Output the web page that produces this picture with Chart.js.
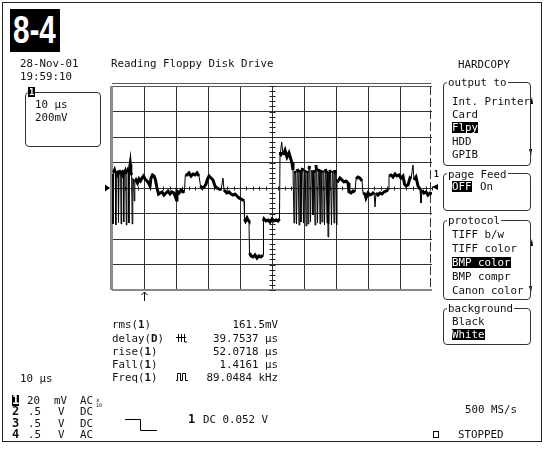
<!DOCTYPE html>
<html><head><meta charset="utf-8">
<script src="https://cdn.jsdelivr.net/npm/chart.js@4/dist/chart.umd.min.js"></script>
<style>
html,body{margin:0;padding:0;background:#fff;}
#wrap{position:relative;width:545px;height:452px;overflow:hidden;}
canvas{position:absolute;left:0;top:0;}
.t{position:absolute;font-family:'DejaVu Sans Mono',monospace;font-size:10.8px;line-height:11px;color:#111;white-space:pre;}
.inv{background:#000;color:#fff;}
.b{font-weight:bold;}
.box{position:absolute;border:1px solid #333;border-radius:4px;}
.ttl{background:#fff;padding:0 1px;}
#frame{position:absolute;left:2px;top:2px;width:538px;height:438px;border:1.5px solid #222;}
#badge{position:absolute;left:10px;top:9px;width:50px;height:43px;background:#000;}
#badge span{position:absolute;left:3px;top:0px;white-space:nowrap;font-family:'Liberation Sans',Arial,sans-serif;font-weight:bold;font-size:38px;line-height:43px;color:#fff;transform:scaleX(0.78);transform-origin:0 50%;}
</style></head>
<body><div id="wrap">
<canvas id="c" width="545" height="452"></canvas>
<div id="frame"></div>
<div id="badge"><span>8-4</span></div>
<div class="t" style="left:20px;top:58px">28-Nov-01</div>
<div class="t" style="left:20px;top:71px">19:59:10</div>
<div class="t" style="left:111px;top:58px">Reading Floppy Disk Drive</div>
<div class="box" style="left:25px;top:92px;width:74px;height:53px"></div>
<div class="t inv b" style="left:28px;top:87px;font-size:9px;line-height:10px;padding:0 1px">1</div>
<div class="t" style="left:35px;top:99px">10 µs</div>
<div class="t" style="left:35px;top:112px">200mV</div>

<div class="t" style="left:458px;top:59px">HARDCOPY</div>
<div class="box" style="left:443px;top:82px;width:86px;height:82px"></div>
<div class="t ttl" style="left:447px;top:77px">output to</div>
<div class="t" style="left:452px;top:96px">Int. Printer</div>
<div class="t" style="left:452px;top:109px">Card</div>
<div class="t inv" style="left:452px;top:122px">Flpy</div>
<div class="t" style="left:452px;top:135.5px">HDD</div>
<div class="t" style="left:452px;top:148.5px">GPIB</div>
<div class="box" style="left:443px;top:173px;width:86px;height:36px"></div>
<div class="t ttl" style="left:447px;top:169px">page Feed</div>
<div class="t inv" style="left:452px;top:181px">OFF</div>
<div class="t" style="left:480px;top:181px">On</div>
<div class="box" style="left:443px;top:220px;width:86px;height:78px"></div>
<div class="t ttl" style="left:447px;top:215px">protocol</div>
<div class="t" style="left:452px;top:229px">TIFF b/w</div>
<div class="t" style="left:452px;top:243px">TIFF color</div>
<div class="t inv" style="left:452px;top:257px">BMP color</div>
<div class="t" style="left:452px;top:271px">BMP compr</div>
<div class="t" style="left:452px;top:285px">Canon color</div>
<div class="box" style="left:443px;top:308px;width:86px;height:35px"></div>
<div class="t ttl" style="left:447px;top:303px">background</div>
<div class="t" style="left:452px;top:316px">Black</div>
<div class="t inv" style="left:452px;top:329px">White</div>
<div class="t" style="left:465px;top:404px">500 MS/s</div>
<div style="position:absolute;left:433px;top:431px;width:4px;height:5px;border:1px solid #111"></div>
<div class="t" style="left:458px;top:429px">STOPPED</div>
<div class="t b" style="left:434px;top:171px;font-size:8px;line-height:8px">1</div>

<div id="meas"></div>
<div class="t" style="left:20px;top:373px">10 µs</div>
<div id="chans"></div>
<div class="t b" style="left:188px;top:414px;font-size:12px">1</div>
<div class="t" style="left:203px;top:414px">DC 0.052 V</div>
</div>
<script>
// ---- data (time in µs, channel 1 in mV; 10 µs/div, 200 mV/div) ----
const timeRange = [0, 100];
const voltRange = [-800, 800];
const ch1Trace = [
[0,110],[0.15,94],[0.31,-282],[0.5,125],[0.78,141],[1.03,118],[1.19,-290],[1.37,133],[1.66,110],[1.88,125],[2.03,-274],[2.22,141],[2.5,118],[2.69,133],[2.84,-282],[3.03,125],[3.28,110],[3.5,141],[3.66,-267],[3.84,118],[4.13,133],[4.31,110],[4.47,-290],[4.66,125],[4.94,141],[5.13,133],[5.28,-274],[5.47,149],[5.69,188],[5.88,125],[6.13,102],[6.31,-282],[6.5,63],[6.72,71],
[6.94,-102],[7.13,47],[7.5,63],[7.97,39],[8.44,71],[8.91,55],[9.38,78],[9.84,94],[10.31,71],[10.94,55],[11.41,39],[11.88,16],[12.19,78],[12.66,102],[13.13,94],[13.59,63],[14.06,0],[14.53,-47],[15.0,-39],[15.63,-31],[16.25,-55],[16.88,-39],[17.5,-24],[18.13,-47],[18.75,-31],[19.38,-39],[20.16,-94],[20.31,-24],[20.94,-39],[21.56,-16],[22.19,-31],[22.66,-24],[22.91,102],[23.44,102],[24.06,118],[24.69,94],[25.31,110],[25.94,102],[26.56,118],[27.19,94],[27.66,16],[28.13,0],[28.75,8],[29.38,31],[29.84,71],[30.31,94],[30.94,78],[31.56,63],[32.19,16],[32.81,0],
[33.44,-8],[34.06,-16],[34.69,78],[35.0,-16],[35.31,-24],[35.94,-39],[36.56,-31],[37.19,-47],[37.81,-55],[38.44,-47],[39.06,-63],[39.69,-78],[40.31,-86],[40.94,-94],[41.25,-102],[41.41,-243],[41.72,-259],[42.19,-235],[42.5,-251],[42.81,-259],[42.97,-510],[43.44,-533],[44.06,-541],[44.69,-525],[45.31,-549],[45.94,-533],[46.56,-541],[47.19,-525],[47.34,-259],[47.5,-243],[48.13,-259],[48.75,-251],[49.38,-267],[50.0,-243],[50.63,-259],[51.25,-251],[51.88,-259],[52.34,-243],[52.5,259],[52.66,282],[53.03,361],[53.44,259],[54.06,298],[54.69,243],[55.31,275],[55.78,235],[56.25,196],[56.56,141],
[56.88,-275],[57.1,133],[57.4,118],[57.66,-282],[57.9,149],[58.2,125],[58.44,-290],[58.7,141],[58.9,118],[59.06,-267],[59.3,133],[59.6,157],[59.84,-275],[60.1,125],[60.4,141],[60.63,-298],[60.9,118],[61.1,133],[61.25,-282],[61.5,149],[61.8,173],[62.03,-267],[62.3,125],[62.6,133],[62.81,-212],[63.0,141],[63.2,118],[63.44,-290],[63.7,180],[64.0,133],[64.22,-275],[64.5,125],[64.8,149],[65.0,-282],[65.2,118],[65.4,141],[65.63,-267],[65.9,133],[66.2,125],[66.41,-290],[66.7,149],[66.95,118],[67.19,-275],[67.35,133],[67.5,-384],[67.65,125],[67.81,-282],[68.0,141],[68.3,118],[68.59,-290],[68.85,133],[69.1,125],[69.38,-275],[69.6,141],[69.9,110],[70.16,-290],[70.31,63],
[70.63,55],[71.25,78],[71.88,63],[72.5,47],[73.13,55],[73.75,39],[74.06,-31],[74.69,-39],[75.31,-24],[75.94,-31],[76.25,71],[76.88,86],[77.5,78],[78.13,55],[78.44,-39],[79.06,-47],[79.38,-78],[80.0,-39],[80.63,-55],[81.25,-47],[81.88,-31],[82.19,-149],[82.5,-39],[83.13,-55],[83.75,-39],[84.38,-47],[85.0,-31],[85.63,-24],[86.25,-16],[86.56,94],[87.19,102],[87.81,86],[88.44,110],[89.06,94],[89.69,102],[90.31,78],[90.94,94],[91.41,31],[91.88,16],[92.5,24],[93.13,78],[93.44,71],[94.06,180],[94.38,63],[95.0,86],[95.63,16],[96.25,-8],[96.56,-118],[96.88,-16],[97.5,-39],[98.13,-31],[98.75,-55],[99.38,-39],[100,-47]
];
const triggerTimeUs = 10;
const measNames = ['rms', 'delay', 'rise', 'Fall', 'Freq'];
const measSrc = ['1', 'D', '1', '1', '1'];
const measValues = ['161.5mV', '39.7537 µs', '52.0718 µs', '1.4161 µs', '89.0484 kHz'];
const chanNums = ['1', '2', '3', '4'];
const chanScale = ['20', '.5', '.5', '.5'];
const chanUnit = ['mV', 'V', 'V', 'V'];
const chanCoupling = ['AC', 'DC', 'DC', 'AC'];

// ---- text panels ----
const meas = document.getElementById('meas');
const measTops = [319, 332.5, 346, 358.5, 372];
measNames.forEach((n, i) => {
  const d = document.createElement('div');
  d.className = 't'; d.style.left = '112px'; d.style.top = measTops[i] + 'px';
  d.innerHTML = n + '(<span class="b">' + measSrc[i] + '</span>)';
  meas.appendChild(d);
  const v = document.createElement('div');
  v.className = 't'; v.style.right = '267px'; v.style.top = measTops[i] + 'px';
  v.textContent = measValues[i];
  meas.appendChild(v);
});
const chans = document.getElementById('chans');
const chanTops = [395, 406, 417.5, 429];
chanNums.forEach((n, i) => {
  const mk = (txt, left, cls) => { const d = document.createElement('div'); d.className = 't ' + (cls || ''); d.style.left = left + 'px'; d.style.top = chanTops[i] + 'px'; d.textContent = txt; chans.appendChild(d); return d; };
  const nd = mk(n, 12, i === 0 ? 'inv b' : 'b'); nd.style.fontSize = '12px';
  mk(chanScale[i], i === 0 ? 27 : 28, '');
  mk(chanUnit[i], i === 0 ? 54 : 58, '');
  mk(chanCoupling[i], 80, '');
  if (i === 0) { const x = mk('x', 96, ''); x.style.fontSize = '6px'; x.style.top = (chanTops[i] - 1) + 'px'; const y = mk('10', 96, ''); y.style.fontSize = '5px'; y.style.top = (chanTops[i] + 5) + 'px'; }
});

// ---- chart ----
const scopePlugin = {
  id: 'scope',
  beforeDatasetsDraw(chart) {
    const { ctx, chartArea: a, scales: { x, y } } = chart;
    ctx.save();
    ctx.fillStyle = '#8c8c8c';
    ctx.fillRect(a.left - 2, a.top, 3, a.bottom - a.top);
    ctx.strokeStyle = '#555'; ctx.lineWidth = 1;
    ctx.beginPath(); ctx.moveTo(a.left, a.top - 2.5); ctx.lineTo(a.right - 1, a.top - 2.5); ctx.stroke();
    ctx.strokeStyle = '#888'; ctx.lineWidth = 2;
    ctx.beginPath(); ctx.moveTo(a.left, a.bottom); ctx.lineTo(a.right, a.bottom); ctx.stroke();
    ctx.strokeStyle = '#333'; ctx.lineWidth = 1; ctx.setLineDash([9, 3]);
    ctx.beginPath(); ctx.moveTo(a.right - 1.5, a.top); ctx.lineTo(a.right - 1.5, a.bottom); ctx.stroke();
    ctx.setLineDash([]);
    const cx = Math.round(x.getPixelForValue(50)) + 0.5;
    const cy = Math.round(y.getPixelForValue(0)) + 0.5;
    ctx.strokeStyle = '#222'; ctx.lineWidth = 1;
    ctx.beginPath();
    for (let v = -800; v <= 800; v += 40) { const py = Math.round(y.getPixelForValue(v)) + 0.5; ctx.moveTo(cx - 3, py); ctx.lineTo(cx + 3, py); }
    for (let t = 0; t <= 100; t += 2) { const px = Math.round(x.getPixelForValue(t)) + 0.5; ctx.moveTo(px, cy - 2); ctx.lineTo(px, cy + 2); }
    ctx.stroke();
    ctx.restore();
  },
  afterDraw(chart) {
    const { ctx, chartArea: a, scales: { x, y } } = chart;
    ctx.save();
    const cy = y.getPixelForValue(0);
    ctx.fillStyle = '#000';
    ctx.beginPath(); ctx.moveTo(a.left - 7, cy - 3.5); ctx.lineTo(a.left - 2, cy); ctx.lineTo(a.left - 7, cy + 3.5); ctx.closePath(); ctx.fill();
    ctx.beginPath(); ctx.moveTo(a.right + 6, cy - 4); ctx.lineTo(a.right, cy - 1); ctx.lineTo(a.right + 6, cy + 2); ctx.closePath(); ctx.fill();
    const tx = Math.round(x.getPixelForValue(triggerTimeUs)) + 0.5;
    ctx.strokeStyle = '#000'; ctx.lineWidth = 1;
    ctx.beginPath(); ctx.moveTo(tx, a.bottom + 2); ctx.lineTo(tx, a.bottom + 11);
    ctx.moveTo(tx - 3, a.bottom + 5); ctx.lineTo(tx, a.bottom + 2); ctx.lineTo(tx + 3, a.bottom + 5); ctx.stroke();
    ctx.beginPath(); ctx.moveTo(125, 419.5); ctx.lineTo(140.5, 419.5); ctx.lineTo(140.5, 430.5); ctx.lineTo(157, 430.5); ctx.stroke();
    ctx.beginPath();
    ctx.moveTo(178.5, 334); ctx.lineTo(178.5, 342); ctx.moveTo(181.5, 334); ctx.lineTo(181.5, 342);
    ctx.moveTo(176, 337.5); ctx.lineTo(186, 337.5); ctx.moveTo(184.5, 334); ctx.lineTo(184.5, 342); ctx.lineTo(187, 342);
    ctx.stroke();
    ctx.beginPath();
    ctx.moveTo(176, 380.5); ctx.lineTo(177.5, 380.5); ctx.lineTo(177.5, 373.5); ctx.lineTo(180.5, 373.5); ctx.lineTo(180.5, 380.5);
    ctx.lineTo(182.5, 380.5); ctx.lineTo(182.5, 373.5); ctx.lineTo(185.5, 373.5); ctx.lineTo(185.5, 380.5); ctx.lineTo(188, 380.5);
    ctx.stroke();
    const arrow = (px, py, up) => { ctx.beginPath(); if (up) { ctx.moveTo(px, py + 4); ctx.lineTo(px + 2, py - 3); ctx.lineTo(px + 3, py + 4); } else { ctx.moveTo(px, py - 4); ctx.lineTo(px + 2, py + 3); ctx.lineTo(px + 3, py - 4); } ctx.closePath(); ctx.fill(); };
    arrow(530, 100, true); arrow(529, 153, false); arrow(530, 242, true); arrow(529, 290, false);
    ctx.restore();
  }
};

new Chart(document.getElementById('c'), {
  type: 'line',
  data: { datasets: [{
    data: ch1Trace.map(([t, v]) => ({ x: t, y: v })),
    borderColor: '#000', borderWidth: 3, pointRadius: 0, tension: 0,
    segment: { borderWidth: (c) => Math.abs(c.p1.y - c.p0.y) > 9 ? 1 : 3 }
  }] },
  options: {
    responsive: false, animation: false, devicePixelRatio: 1,
    layout: { padding: { left: 112, right: 113, top: 86, bottom: 162 } },
    plugins: { legend: { display: false }, tooltip: { enabled: false } },
    scales: {
      x: { type: 'linear', min: timeRange[0], max: timeRange[1],
           ticks: { display: false, stepSize: 10 },
           grid: { drawTicks: false, lineWidth: 1, color: (c) => (c.tick.value <= timeRange[0] || c.tick.value >= timeRange[1]) ? 'rgba(0,0,0,0)' : '#333' },
           border: { display: false } },
      y: { type: 'linear', min: voltRange[0], max: voltRange[1],
           ticks: { display: false, stepSize: 200 },
           grid: { drawTicks: false, lineWidth: 1, color: (c) => c.tick.value <= voltRange[0] ? 'rgba(0,0,0,0)' : (c.tick.value >= voltRange[1] ? '#555' : '#333') },
           border: { display: false } }
    }
  },
  plugins: [scopePlugin]
});
</script>
</body></html>
